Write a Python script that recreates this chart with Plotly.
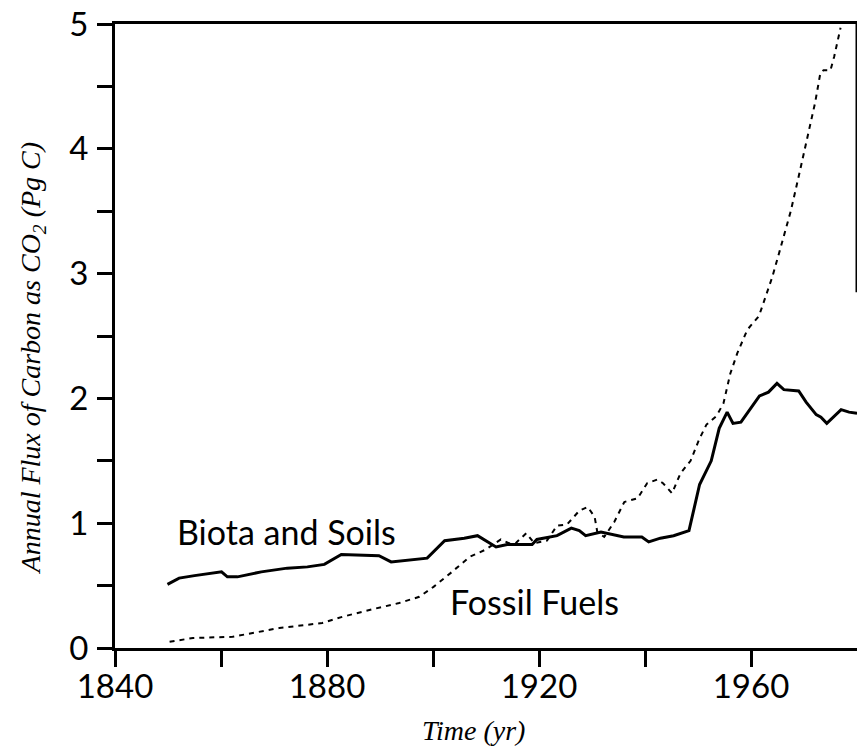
import plotly.graph_objects as go

# Biota and Soils (solid)
bio_year = [1849.9, 1852.1, 1855.0, 1860.1, 1861.2, 1863.1, 1867.6, 1872.5, 1876.3, 1879.5,
            1882.7, 1889.8, 1892.1, 1898.9, 1902.2, 1905.9, 1908.4, 1911.9, 1914.0, 1918.7,
            1919.6, 1923.4, 1926.1, 1927.6, 1928.8, 1931.7, 1936.0, 1939.4, 1940.7, 1942.9,
            1945.4, 1948.3, 1950.3, 1952.5, 1954.0, 1955.5, 1956.6, 1958.1, 1961.6, 1963.3,
            1964.9, 1966.2, 1969.0, 1970.4, 1972.3, 1973.2, 1974.3, 1977.0, 1978.5, 1980.0]
bio_flux = [0.51, 0.56, 0.58, 0.61, 0.57, 0.57, 0.61, 0.64, 0.65, 0.67,
            0.75, 0.74, 0.69, 0.72, 0.86, 0.88, 0.90, 0.81, 0.83, 0.83,
            0.87, 0.90, 0.96, 0.94, 0.90, 0.93, 0.89, 0.89, 0.85, 0.88,
            0.90, 0.94, 1.31, 1.50, 1.76, 1.89, 1.80, 1.81, 2.02, 2.05,
            2.12, 2.07, 2.06, 1.97, 1.87, 1.85, 1.80, 1.91, 1.89, 1.88]

# Fossil Fuels (dashed)
fos_year = [1850.3, 1854.7, 1862.2, 1867.3, 1871.0, 1879.1, 1882.9, 1888.5, 1893.6, 1897.4,
            1900.1, 1903.3, 1906.9, 1910.0, 1912.8, 1914.3, 1915.6, 1917.6, 1919.1, 1921.5,
            1923.4, 1925.3, 1927.6, 1929.2, 1930.5, 1931.0, 1932.3, 1934.2, 1936.1, 1938.6,
            1940.4, 1942.3, 1943.4, 1945.1, 1946.7, 1948.6, 1950.2, 1951.6, 1953.5, 1954.8,
            1956.1, 1957.4, 1959.3, 1961.5, 1964.0, 1965.4, 1967.5, 1968.9, 1970.0, 1971.0,
            1972.1, 1973.1, 1973.7, 1975.0, 1975.7, 1976.9]
fos_flux = [0.05, 0.08, 0.09, 0.13, 0.16, 0.20, 0.25, 0.31, 0.36, 0.41,
            0.49, 0.60, 0.73, 0.79, 0.87, 0.84, 0.84, 0.92, 0.84, 0.86,
            0.98, 0.99, 1.10, 1.13, 1.05, 0.93, 0.89, 1.01, 1.17, 1.20,
            1.32, 1.35, 1.32, 1.24, 1.40, 1.50, 1.67, 1.79, 1.86, 1.96,
            2.20, 2.36, 2.55, 2.66, 2.97, 3.18, 3.50, 3.76, 3.97, 4.16,
            4.37, 4.61, 4.63, 4.63, 4.74, 4.97]

x_ticks = [1840, 1880, 1920, 1960]
x_minor = [1860, 1900, 1940]
y_ticks = [0, 1, 2, 3, 4, 5]
y_minor = [0.5, 1.5, 2.5, 3.5, 4.5]

SANS = "Lato, Roboto, sans-serif"
TICKFONT = dict(family=SANS, size=33, color="black")
TITLEFONT = dict(family="Liberation Serif, DejaVu Serif, serif", size=28, color="black")

fig = go.Figure()
fig.add_trace(go.Scatter(x=bio_year, y=bio_flux, mode="lines",
                         line=dict(color="black", width=3), showlegend=False))
fig.add_trace(go.Scatter(x=fos_year, y=fos_flux, mode="lines",
                         line=dict(color="black", width=2, dash="5px,5px"), showlegend=False))

fig.update_layout(
    width=860, height=749,
    margin=dict(l=115, r=3, t=19, b=101),
    paper_bgcolor="white", plot_bgcolor="white",
    hovermode=False,
    xaxis=dict(range=[1840, 1980], tickvals=x_ticks, ticktext=[str(v) for v in x_ticks],
               showgrid=False, zeroline=False, showline=True, linecolor="black", linewidth=3,
               mirror=True, ticks="outside", ticklen=16, tickwidth=3, tickcolor="black",
               tickfont=TICKFONT, ticklabeloverflow="allow", ticklabelstandoff=-9,
               minor=dict(tickvals=x_minor, ticks="outside", ticklen=16,
                          tickwidth=3, tickcolor="black", showgrid=False)),
    yaxis=dict(range=[0, 5], tickvals=y_ticks, ticktext=[str(v) for v in y_ticks],
               showgrid=False, zeroline=False, showline=True, linecolor="black", linewidth=3,
               mirror=False, ticks="outside", ticklen=15, tickwidth=3, tickcolor="black",
               tickfont=TICKFONT, ticklabeloverflow="allow", ticklabelstandoff=2,
               minor=dict(tickvals=y_minor, ticks="outside", ticklen=15,
                          tickwidth=3, tickcolor="black", showgrid=False)),
    annotations=[
        dict(text="Biota and Soils", x=1872.3, y=0.93, xref="x", yref="y",
             showarrow=False, font=dict(family=SANS, size=34, color="black")),
        dict(text="Fossil Fuels", x=1919.1, y=0.37, xref="x", yref="y",
             showarrow=False, font=dict(family=SANS, size=34, color="black")),
        dict(text="<i>Time (yr)</i>", x=0.483, y=-0.132, xref="paper", yref="paper",
             showarrow=False, xanchor="center", yanchor="middle", font=TITLEFONT),
        dict(text="<i>Annual Flux of Carbon as CO<sub>2</sub> (Pg C)</i>", x=-0.111, y=0.465,
             xref="paper", yref="paper", textangle=-90,
             showarrow=False, xanchor="center", yanchor="middle", font=TITLEFONT),
    ],
    shapes=[dict(type="line", xref="x", yref="y", x0=1980, x1=1980, y0=2.85, y1=5,
                 line=dict(color="black", width=3))],
)

fig.write_html("out.html", config={"displayModeBar": False, "staticPlot": True},
               post_script="document.body.style.margin='0';")
